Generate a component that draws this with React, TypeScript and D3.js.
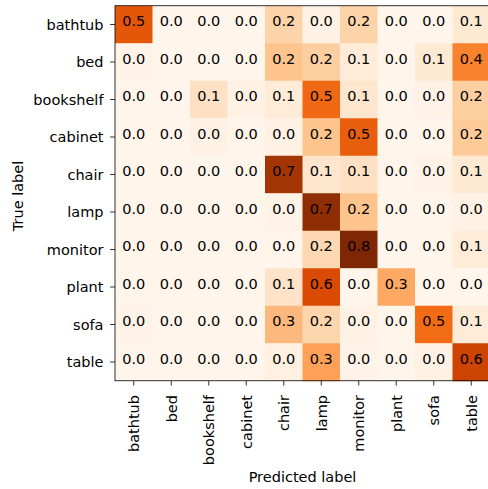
import React from "react";
import * as d3 from "d3";

const labels = ["bathtub", "bed", "bookshelf", "cabinet", "chair", "lamp", "monitor", "plant", "sofa", "table"];

// rows = true label, columns = predicted label (row-normalised)
const rowBathtub = [0.54, 0, 0, 0, 0.18, 0.02, 0.18, 0, 0, 0.08];
const rowBed = [0.01, 0, 0, 0, 0.23, 0.2, 0.06, 0, 0.08, 0.42];
const rowBookshelf = [0, 0, 0.12, 0.02, 0.06, 0.49, 0.1, 0, 0.01, 0.2];
const rowCabinet = [0, 0, 0.02, 0, 0.02, 0.23, 0.52, 0, 0, 0.21];
const rowChair = [0, 0, 0, 0, 0.69, 0.1, 0.12, 0, 0.01, 0.08];
const rowLamp = [0, 0, 0, 0, 0.01, 0.74, 0.23, 0, 0, 0.02];
const rowMonitor = [0, 0, 0, 0, 0, 0.16, 0.78, 0, 0, 0.06];
const rowPlant = [0, 0, 0, 0, 0.11, 0.58, 0, 0.31, 0, 0];
const rowSofa = [0.01, 0, 0, 0, 0.26, 0.17, 0.02, 0, 0.48, 0.06];
const rowTable = [0, 0, 0, 0, 0.03, 0.33, 0.01, 0, 0.02, 0.61];

const matrix = [rowBathtub, rowBed, rowBookshelf, rowCabinet, rowChair, rowLamp, rowMonitor, rowPlant, rowSofa, rowTable];

const orangeStops = ["#fff5eb", "#fee6ce", "#fdd0a2", "#fdae6b", "#fd8d3c", "#f16913", "#d94801", "#a63603", "#7f2704"];

const W = 488;
const H = 489;
const left = 115;
const top = 5.75;
const size = 375;

export default function App() {
  const x = d3.scaleBand<string>().domain(labels).range([left, left + size]);
  const y = d3.scaleBand<string>().domain(labels).range([top, top + size]);
  const flat = matrix.flat();
  const vmin = d3.min(flat) as number;
  const vmax = d3.max(flat) as number;
  const t = d3.scaleLinear().domain([vmin, vmax]).range([0, 1]);
  const stopScale = d3
    .scaleLinear<string>()
    .domain(orangeStops.map((_, i) => i / (orangeStops.length - 1)))
    .range(orangeStops)
    .interpolate(d3.interpolateRgb);
  const color = (v: number) => stopScale(t(v));
  const bw = x.bandwidth();
  const bh = y.bandwidth();
  const font = "DejaVu Sans, sans-serif";
  const fs = 14.5;

  return (
    <svg width={W} height={H} style={{ position: "absolute", left: 0, top: 0 }} fontFamily={font}>
      <rect x={0} y={0} width={W} height={H} fill="#ffffff" />
      {matrix.map((row, i) =>
        row.map((v, j) => (
          <rect
            key={`c${i}-${j}`}
            x={x(labels[j])}
            y={y(labels[i])}
            width={bw + 0.5}
            height={bh + 0.5}
            fill={color(v)}
          />
        ))
      )}
      {matrix.map((row, i) =>
        row.map((v, j) => (
          <text
            key={`t${i}-${j}`}
            x={(x(labels[j]) as number) + bw / 2}
            y={(y(labels[i]) as number) + bh / 2 + 1.5}
            fontSize={fs}
            textAnchor="middle"
            fill="#000"
          >
            {v.toFixed(1)}
          </text>
        ))
      )}
      <rect x={left} y={top} width={size} height={size} fill="none" stroke="#000" strokeWidth={0.8} />
      {labels.map((l) => {
        const cy = (y(l) as number) + bh / 2;
        return (
          <g key={`yl${l}`}>
            <line x1={left - 4.9} x2={left} y1={cy} y2={cy} stroke="#000" strokeWidth={0.8} />
            <text x={103.5} y={cy + 5.2} fontSize={fs} textAnchor="end" fill="#000">
              {l}
            </text>
          </g>
        );
      })}
      {labels.map((l) => {
        const cx = (x(l) as number) + bw / 2;
        return (
          <g key={`xl${l}`}>
            <line x1={cx} x2={cx} y1={top + size} y2={top + size + 4.9} stroke="#000" strokeWidth={0.8} />
            <text
              transform={`translate(${cx + 5.4},${395}) rotate(-90)`}
              fontSize={fs}
              textAnchor="end"
              fill="#000"
            >
              {l}
            </text>
          </g>
        );
      })}
      <text x={left + size / 2} y={481.5} fontSize={fs} textAnchor="middle" fill="#000">
        Predicted label
      </text>
      <text transform={`translate(22.5,${196}) rotate(-90)`} fontSize={fs} textAnchor="middle" fill="#000">
        True label
      </text>
    </svg>
  );
}
